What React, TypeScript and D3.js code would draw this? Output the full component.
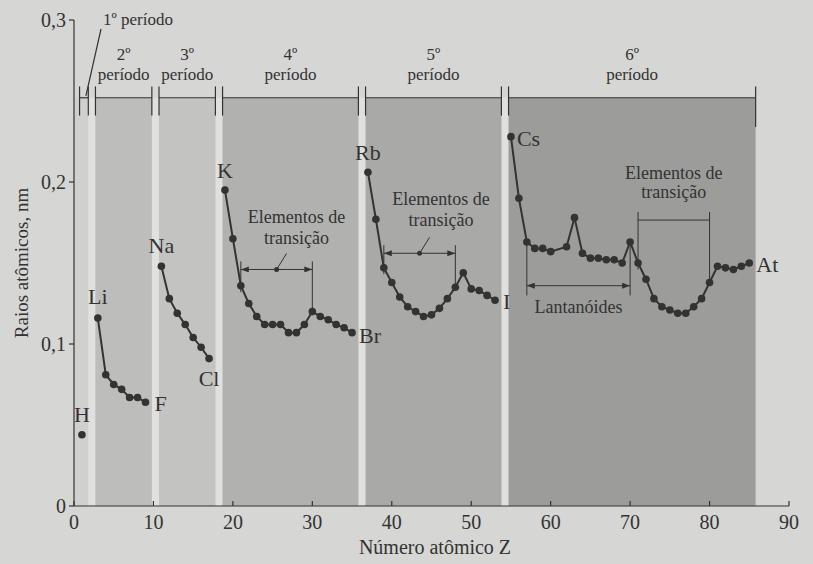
import React from 'react'
import * as d3 from 'd3'

// períodos
const periodNames = ['1º', '2º', '3º', '4º', '5º', '6º']
const periodFirstZ = [1, 3, 11, 19, 37, 55]
const periodLastZ = [2, 10, 18, 36, 54, 86]

// raios atômicos (nm)
const hZ = [1]
const hR = [0.044]
const p2Z = [3, 4, 5, 6, 7, 8, 9]
const p2R = [0.116, 0.081, 0.075, 0.072, 0.067, 0.067, 0.064]
const p3Z = [11, 12, 13, 14, 15, 16, 17]
const p3R = [0.148, 0.128, 0.119, 0.112, 0.104, 0.098, 0.091]
const p4Z = [19, 20, 21, 22, 23, 24, 25, 26, 27, 28, 29, 30, 31, 32, 33, 34, 35]
const p4R = [0.195, 0.165, 0.136, 0.125, 0.117, 0.112, 0.112, 0.112, 0.107, 0.107, 0.112, 0.12, 0.117, 0.115, 0.112, 0.11, 0.107]
const p5Z = [37, 38, 39, 40, 41, 42, 43, 44, 45, 46, 47, 48, 49, 50, 51, 52, 53]
const p5R = [0.206, 0.177, 0.147, 0.138, 0.129, 0.123, 0.12, 0.117, 0.118, 0.122, 0.128, 0.135, 0.144, 0.134, 0.133, 0.13, 0.127]
const p6Z = [55, 56, 57, 58, 59, 60, 62, 63, 64, 65, 66, 67, 68, 69, 70, 71, 72, 73, 74, 75, 76, 77, 78, 79, 80, 81, 82, 83, 84, 85]
const p6R = [0.228, 0.19, 0.163, 0.159, 0.159, 0.157, 0.16, 0.178, 0.156, 0.153, 0.153, 0.152, 0.152, 0.15, 0.163, 0.15, 0.14, 0.128, 0.123, 0.121, 0.119, 0.119, 0.123, 0.128, 0.138, 0.148, 0.147, 0.146, 0.148, 0.15]

const labelSymbols = ['H', 'Li', 'F', 'Na', 'Cl', 'K', 'Br', 'Rb', 'I', 'Cs', 'At']
const labelZ = [1, 3, 9, 11, 17, 19, 35, 37, 53, 55, 85]

const xTicks = [0, 10, 20, 30, 40, 50, 60, 70, 80, 90]
const yTicks = [0, 0.1, 0.2, 0.3]
const yTickLabels = ['0', '0,1', '0,2', '0,3']

const series = [
  { z: hZ, r: hR },
  { z: p2Z, r: p2R },
  { z: p3Z, r: p3R },
  { z: p4Z, r: p4R },
  { z: p5Z, r: p5R },
  { z: p6Z, r: p6R },
]

const radius = new Map<number, number>()
series.forEach(s => s.z.forEach((z, i) => radius.set(z, s.r[i])))

const W = 813
const H = 564
const ink = '#333333'
const font = '"Liberation Serif", "DejaVu Serif", serif'
const bandFill = ['#d2d2d0', '#bdbdbb', '#c3c3c1', '#b1b1af', '#a9a9a7', '#9c9c9a']

// posição dos rótulos dos elementos
const labelPos: Record<string, [number, number, string]> = {
  H: [0, -13, 'middle'],
  Li: [0, -14, 'middle'],
  F: [9, 9, 'start'],
  Na: [0, -13, 'middle'],
  Cl: [0, 27, 'middle'],
  K: [0, -12, 'middle'],
  Br: [7, 10, 'start'],
  Rb: [0, -12, 'middle'],
  I: [8, 9, 'start'],
  Cs: [6, 9, 'start'],
  At: [7, 9, 'start'],
}

const App: React.FC = () => {
  const x = d3.scaleLinear().domain([0, 90]).range([74, 789])
  const y = d3.scaleLinear().domain([0, 0.3]).range([506, 20])

  const line = d3.line<[number, number]>()
    .x(d => x(d[0]))
    .y(d => y(d[1]))

  const bandStart = (i: number) => x(periodFirstZ[i] - 0.3)
  const bandEnd = (i: number) => x(periodLastZ[i] - 0.2)
  const topY = y(0.252)

  // colchetes "Elementos de transição"
  const transitions = [
    { z0: 21, z1: 30, v: 0.146, arrows: true, leader: true, tx: 28, t1: 0.175, t2: 0.162 },
    { z0: 39, z1: 48, v: 0.156, arrows: true, leader: true, tx: 46.2, t1: 0.186, t2: 0.173 },
    { z0: 71, z1: 80, v: 0.1765, arrows: false, leader: false, tx: 75.5, t1: 0.202, t2: 0.19 },
  ]

  return (
    <svg width={W} height={H} style={{ position: 'absolute', left: 0, top: 0, display: 'block' }} fontFamily={font}>
      <defs>
        <marker id='arr' viewBox='0 0 8 6' refX='8' refY='3' markerWidth='8' markerHeight='6' orient='auto-start-reverse' markerUnits='userSpaceOnUse'>
          <path d='M0,0 L8,3 L0,6 z' fill={ink} />
        </marker>
      </defs>
      <rect width={W} height={H} fill='#d6d6d4' />

      {/* faixas claras entre os períodos */}
      <rect x={x(0)} y={topY} width={bandEnd(0) - x(0)} height={y(0) - topY} fill='#d0d0ce' />
      {periodNames.slice(0, 5).map((_, i) => (
        <rect key={'gap' + i} x={bandEnd(i)} y={topY} width={bandStart(i + 1) - bandEnd(i)} height={y(0) - topY} fill='#e0e0de' />
      ))}
      {periodNames.map((_, i) => i > 0 && (
        <rect key={'band' + i} x={bandStart(i)} y={topY} width={bandEnd(i) - bandStart(i)} height={y(0) - topY} fill={bandFill[i]} />
      ))}

      {/* colchetes dos períodos */}
      {periodNames.map((name, i) => (
        <g key={'per' + i} stroke={ink} strokeWidth={1.2}>
          <line x1={bandStart(i)} x2={bandEnd(i)} y1={topY} y2={topY} />
          <line x1={bandStart(i)} x2={bandStart(i)} y1={y(0.259)} y2={y(0.241)} />
          <line x1={bandEnd(i)} x2={bandEnd(i)} y1={y(0.259)} y2={y(i === 5 ? 0.234 : 0.241)} />
          {i > 0 ? (
            <g stroke='none' fill={ink} textAnchor='middle' fontSize={17}>
              <text x={(bandStart(i) + bandEnd(i)) / 2} y={60}>{name}</text>
              <text x={(bandStart(i) + bandEnd(i)) / 2} y={80}>período</text>
            </g>
          ) : (
            <g>
              <line x1={101} y1={29} x2={(bandStart(i) + bandEnd(i)) / 2 + 2} y2={topY - 2} />
              <text stroke='none' fill={ink} x={103} y={25} fontSize={17}>{name} período</text>
            </g>
          )}
        </g>
      ))}

      {/* eixos */}
      <g stroke={ink} strokeWidth={1.2}>
        <line x1={x(0)} x2={x(0)} y1={y(0)} y2={y(0.3)} />
        <line x1={x(0)} x2={x(90)} y1={y(0)} y2={y(0)} />
        {xTicks.map(t => <line key={'xt' + t} x1={x(t)} x2={x(t)} y1={y(0)} y2={y(0) - 5} />)}
        {yTicks.map(t => <line key={'yt' + t} x1={x(0) - 5} x2={x(0)} y1={y(t)} y2={y(t)} />)}
      </g>
      <g fill={ink} fontSize={20}>
        {xTicks.map(t => <text key={'xl' + t} x={x(t)} y={y(0) + 23} textAnchor='middle'>{t}</text>)}
        {yTicks.map((t, i) => <text key={'yl' + t} x={x(0) - 8} y={y(t) + 7} textAnchor='end'>{yTickLabels[i]}</text>)}
        <text x={435} y={554} textAnchor='middle' fontSize={20}>Número atômico Z</text>
        <text transform={`translate(28, ${(y(0.1) + y(0.2)) / 2}) rotate(-90)`} textAnchor='middle' fontSize={19}>Raios atômicos, nm</text>
      </g>

      {/* anotações */}
      {transitions.map((t, i) => (
        <g key={'tr' + i} stroke={ink} strokeWidth={1}>
          <line x1={x(t.z0)} x2={x(t.z1)} y1={y(t.v)} y2={y(t.v)}
            markerStart={t.arrows ? 'url(#arr)' : undefined} markerEnd={t.arrows ? 'url(#arr)' : undefined} />
          <line x1={x(t.z0)} x2={x(t.z0)} y1={y(t.v + 0.005)} y2={y((radius.get(t.z0) ?? 0) - 0.004)} />
          <line x1={x(t.z1)} x2={x(t.z1)} y1={y(t.v + 0.005)} y2={y((radius.get(t.z1) ?? 0) - 0.002)} />
          {t.leader && (
            <g>
              <circle cx={(x(t.z0) + x(t.z1)) / 2} cy={y(t.v)} r={2.5} fill={ink} stroke='none' />
              <line x1={(x(t.z0) + x(t.z1)) / 2} y1={y(t.v)} x2={(x(t.z0) + x(t.z1)) / 2 + 10} y2={y(t.v) - 16} />
            </g>
          )}
          <g stroke='none' fill={ink} fontSize={18} textAnchor='middle'>
            <text x={x(t.tx)} y={y(t.t1)}>Elementos de</text>
            <text x={x(t.tx)} y={y(t.t2)}>transição</text>
          </g>
        </g>
      ))}
      <g stroke={ink} strokeWidth={1}>
        <line x1={x(57)} x2={x(70)} y1={y(0.136)} y2={y(0.136)} markerStart='url(#arr)' markerEnd='url(#arr)' />
        <line x1={x(57)} x2={x(57)} y1={y(radius.get(57) ?? 0)} y2={y(0.13)} />
        <line x1={x(70)} x2={x(70)} y1={y(radius.get(70) ?? 0)} y2={y(0.13)} />
        <text stroke='none' fill={ink} x={x(63.5)} y={y(0.119)} textAnchor='middle' fontSize={18}>Lantanóides</text>
      </g>

      {/* curvas */}
      {series.map((s, i) => (
        <g key={'s' + i}>
          <path d={line(s.z.map((z, j) => [z, s.r[j]] as [number, number])) ?? ''} fill='none' stroke={ink} strokeWidth={2} />
          {s.z.map((z, j) => (
            <circle key={z} cx={x(z)} cy={y(s.r[j])} r={3.8} fill={ink} />
          ))}
        </g>
      ))}

      {/* símbolos */}
      <g fill={ink} fontSize={22}>
        {labelSymbols.map((sym, i) => {
          const z = labelZ[i]
          const [dx, dy, anchor] = labelPos[sym]
          return (
            <text key={sym} x={x(z) + dx} y={y(radius.get(z) ?? 0) + dy} textAnchor={anchor as any}>{sym}</text>
          )
        })}
      </g>
    </svg>
  )
}

export default App
